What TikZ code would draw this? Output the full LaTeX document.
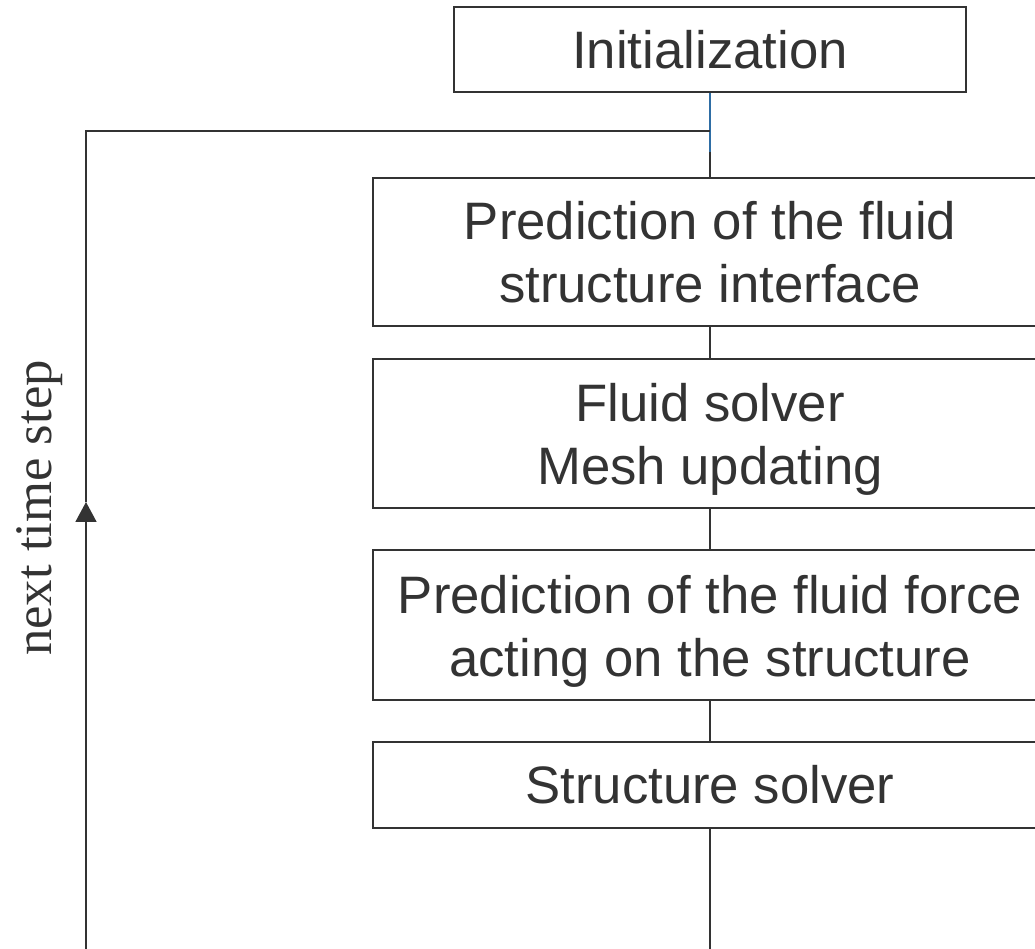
\documentclass[tikz,border=0pt]{standalone}
\usepackage{fontspec}
\setmainfont{Liberation Sans}
\newfontfamily\timesfont{Liberation Serif}
\usepackage{tikz}
\usetikzlibrary{arrows.meta, positioning}
\usepackage{xcolor}
\definecolor{ink}{HTML}{333333}
\definecolor{lnk}{HTML}{2E6DA4}
% pushes a two-line label a little lower in its box
\newcommand{\lowstrut}{\rule{0pt}{1.01cm}}

\begin{document}
\begin{tikzpicture}[
      x=0.02cm, y=-0.02cm,
      font=\fontsize{30}{36}\selectfont,
      stepbox/.style={draw=ink, text=ink, line width=1pt, align=center,
                      inner sep=0pt, minimum width=13.48cm},
      ed/.style={ink, line width=1pt},
    ]
    \clip (0,0) rectangle (1035,949);

    % start and the chain of solver steps
    \node[stepbox, minimum width=10.24cm, minimum height=1.7cm] (init)
      at (710,49.5) {Initialization};
    \node[stepbox, minimum height=2.97cm] (pred) at (710,252)
      {Prediction of the fluid\\structure interface};
    \node[stepbox, minimum height=2.97cm] (fluid) at (710,433.5)
      {\lowstrut Fluid solver\\Mesh updating};
    \node[stepbox, minimum height=3cm] (force) at (710,625)
      {\lowstrut Prediction of the fluid force\\acting on the structure};
    \node[stepbox, minimum height=1.72cm] (solid) at (710,785)
      {Structure solver};

    \coordinate (join) at (710,131);
    \coordinate (mid)  at (710,152);
    \draw[lnk, line width=1pt] (init) -- (mid);
    \draw[ed] (mid) -- (pred);
    \draw[ed] (pred) -- (fluid);
    \draw[ed] (fluid) -- (force);
    \draw[ed] (force) -- (solid);

    % loop back to the next time step
    \coordinate (out)  at (710,949);
    \coordinate (bot)  at (86,949);
    \coordinate (tip)  at (86,502);
    \coordinate (turn) at (86,131);
    \draw[ed] (solid) -- (out);
    \draw[ed, -{Triangle[length=0.4cm, width=0.42cm]}] (bot) -- (tip);
    \draw[ed] (tip) -- (turn) -- (join);
    \node[text=ink, rotate=90, font=\timesfont\fontsize{30}{36}\selectfont]
      (lbl) at (40,508) {next time step};
\end{tikzpicture}
\end{document}
